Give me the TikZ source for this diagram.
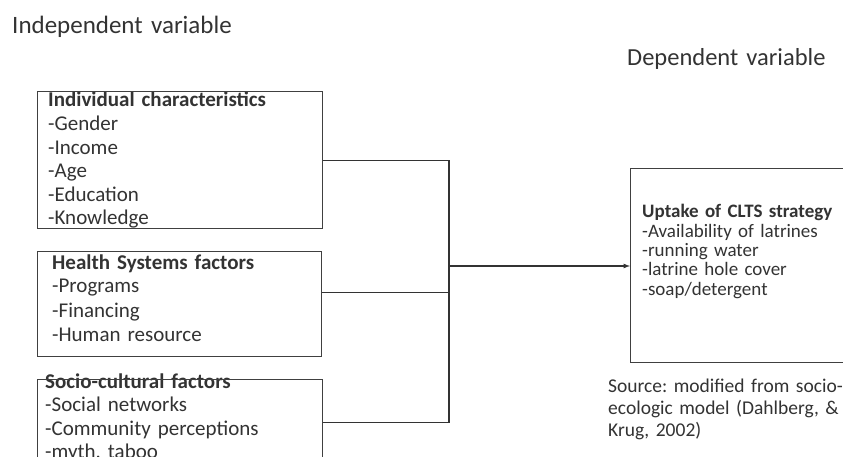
\documentclass[tikz,border=0pt]{standalone}
\usepackage{fontspec}
\setmainfont{Carlito}
\frenchspacing
\begin{document}
\begin{tikzpicture}[x=1pt,y=-1pt,
  box/.style={draw=black!75,line width=1.3pt,anchor=north west,inner sep=0pt},
  txt/.style={anchor=base west,inner sep=0pt,align=left,text=black!80,text width=300pt},
  link/.style={draw=black!80,line width=1.2pt}]
\useasboundingbox[fill=white] (0,0) rectangle (843,457);
% headings
\node[txt,font=\fontsize{25}{30}\selectfont] (indep) at (12,34) {Independent variable};
\node[txt,font=\fontsize{24.5}{30}\selectfont] (dep) at (627,66) {Dependent variable};
% box texts
\node[txt,font=\fontsize{21}{23.6}\selectfont] (indtxt) at (48,107)
  {\textbf{Individual characteristics}\\-Gender\\-Income\\-Age\\-Education\\-Knowledge};
\node[txt,font=\fontsize{21}{24}\selectfont] (hsftxt) at (52,269)
  {\textbf{Health Systems factors}\\-Programs\\-Financing\\-Human resource};
\node[txt,font=\fontsize{21}{23.5}\selectfont] (scftxt) at (45,388)
  {\textbf{Socio-cultural factors}\\-Social networks\\-Community perceptions\\-myth, taboo};
\node[txt,font=\fontsize{19}{19.3}\selectfont] (cltstxt) at (642,218)
  {\textbf{Uptake of CLTS strategy}\\-Availability of latrines\\-running water\\-latrine hole cover\\-soap/detergent};
\node[txt,font=\fontsize{19.5}{22}\selectfont] (src) at (608,392)
  {Source: modified from socio-\\ecologic model (Dahlberg, \&\\Krug, 2002)};
% boxes
\node[box,minimum width=285pt,minimum height=137pt] (ind) at (37,91) {};
\node[box,minimum width=284pt,minimum height=105pt] (hsf) at (37,251) {};
\node[box,minimum width=285pt,minimum height=86pt] (scf) at (37,379) {};
\node[box,minimum width=240pt,minimum height=194pt] (clts) at (630,168) {};
% connectors
\coordinate (jn) at (449,266);
\draw[link] (ind.east) -| (jn);
\draw[link] (scf.east) -| (jn);
\draw[link] ([yshift=11.5pt]hsf.east) -- ([yshift=11.5pt]hsf.east -| jn);
\draw[link,->,>=latex] (jn) -- (jn -| clts.west);
\end{tikzpicture}
\end{document}
